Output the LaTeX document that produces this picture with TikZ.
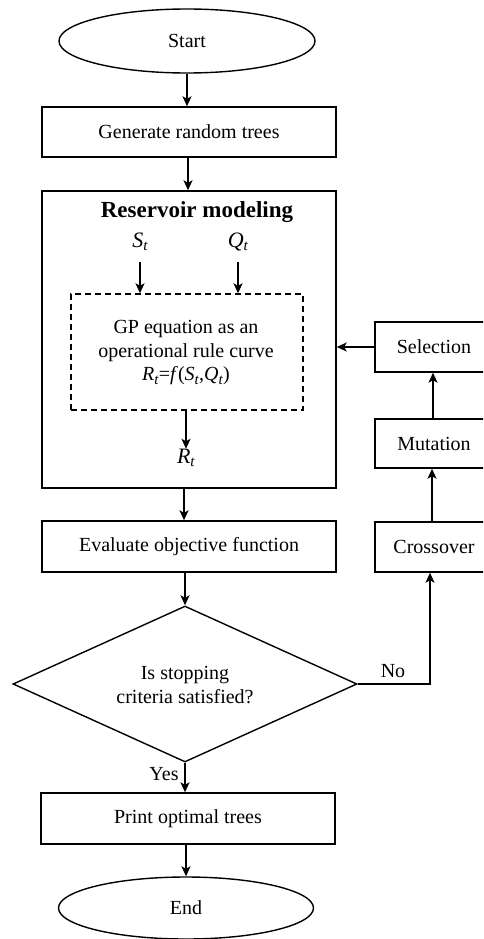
\documentclass[tikz,border=0pt]{standalone}
\usepackage{fontspec}
\setmainfont{Liberation Serif}
\usetikzlibrary{shapes.geometric,arrows.meta}
\newcommand{\vsub}[2]{\textit{#1}\raisebox{-0.35ex}{\fontsize{15}{16}\selectfont\textit{#2}}}
\begin{document}
\begin{tikzpicture}[x=1pt,y=1pt,
  every node/.style={font=\fontsize{20}{24}\selectfont},
  box/.style={draw,line width=1.4pt,rectangle,inner sep=0pt},
  oval/.style={draw,line width=1.4pt,ellipse,inner sep=0pt},
  flow/.style={line width=1.4pt,-{Stealth[length=10pt,width=9pt,inset=2.5pt]}},
  txt/.style={inner sep=0pt}]
\useasboundingbox (0,0) rectangle (483,-939);
\fill[white] (0,0) rectangle (483,-939);
\begin{scope}
\clip (0,0) rectangle (483,-939);
\node[oval,minimum width=256,minimum height=64] (start) at (187,-41) {Start};
\node[box,minimum width=294,minimum height=50] (gen) at (189,-132) {Generate random trees};
\node[box,minimum width=294,minimum height=297] (res) at (189,-339.5) {};
\node[txt,font=\fontsize{23}{26}\selectfont\bfseries] (title) at (197,-212) {Reservoir modeling};
\node[txt,font=\fontsize{22}{26}\selectfont] (st) at (140,-242) {\vsub{S}{t}};
\node[txt,font=\fontsize{22}{26}\selectfont] (qt) at (238,-242) {\vsub{Q}{t}};
\node[box,dashed,dash pattern=on 6pt off 4pt,minimum width=232,minimum height=116] (gp) at (187,-352) {};
\node[txt,align=center,font=\fontsize{20}{23.5}\selectfont] (gptxt) at (186,-353) {GP equation as an\\operational rule curve\\\vsub{R}{t}=\textit{f}(\vsub{S}{t},\vsub{Q}{t})};
\node[txt,font=\fontsize{22}{26}\selectfont] (rt) at (186,-458) {\vsub{R}{t}};
\node[box,minimum width=111,minimum height=50] (sel) at (430.5,-347) {\hspace*{7pt}Selection};
\node[box,minimum width=111,minimum height=49] (mut) at (430.5,-443.5) {\hspace*{7pt}Mutation};
\node[box,minimum width=111,minimum height=50] (cro) at (430.5,-547) {\hspace*{7pt}Crossover};
\node[box,minimum width=294,minimum height=51] (eval) at (189,-546.5) {Evaluate objective function};
\node[draw,line width=1.4pt,diamond,inner sep=0pt,minimum width=344,minimum height=156] (dec) at (185,-684) {};
\node[txt,align=center,font=\fontsize{20}{24}\selectfont] (dectxt) at (185,-685) {Is stopping\\criteria satisfied?};
\node[txt] (no) at (393,-671) {No};
\node[box,minimum width=294,minimum height=51] (print) at (188,-818.5) {Print optimal trees};
\node[oval,minimum width=255,minimum height=62] (end) at (186,-908) {End};
\node[txt] (yes) at (164,-774) {Yes};
\coordinate (c1) at (430,-684);
\coordinate (xa) at (432,0);
\coordinate (xb) at (433,0);
\draw[flow] (start.south) -- (start.south |- gen.north);
\draw[flow] ([xshift=-1pt]gen.south) -- ([xshift=-1pt]res.north);
\draw[flow] (st.south |- 0,-262) -- (st.south |- gp.north);
\draw[flow] (qt.south |- 0,-262) -- (qt.south |- gp.north);
\draw[flow] ([xshift=-1pt]gp.south) -- (rt.north);
\draw[flow] ([xshift=-5pt]res.south) -- ([xshift=-5pt]eval.north);
\draw[flow] ([xshift=-4pt]eval.south) -- (dec.north);
\draw[flow] (dec.south) -- (dec.south |- print.north);
\draw[flow] (print.south -| end.north) -- (end.north);
\draw[flow] (dec.east) -- (c1) -- (c1 |- cro.south);
\draw[flow] (xa |- cro.north) -- (xa |- mut.south);
\draw[flow] (xb |- mut.north) -- (xb |- sel.south);
\draw[flow] (sel.west) -- (res.east |- sel.west);
\end{scope}
\end{tikzpicture}
\end{document}
